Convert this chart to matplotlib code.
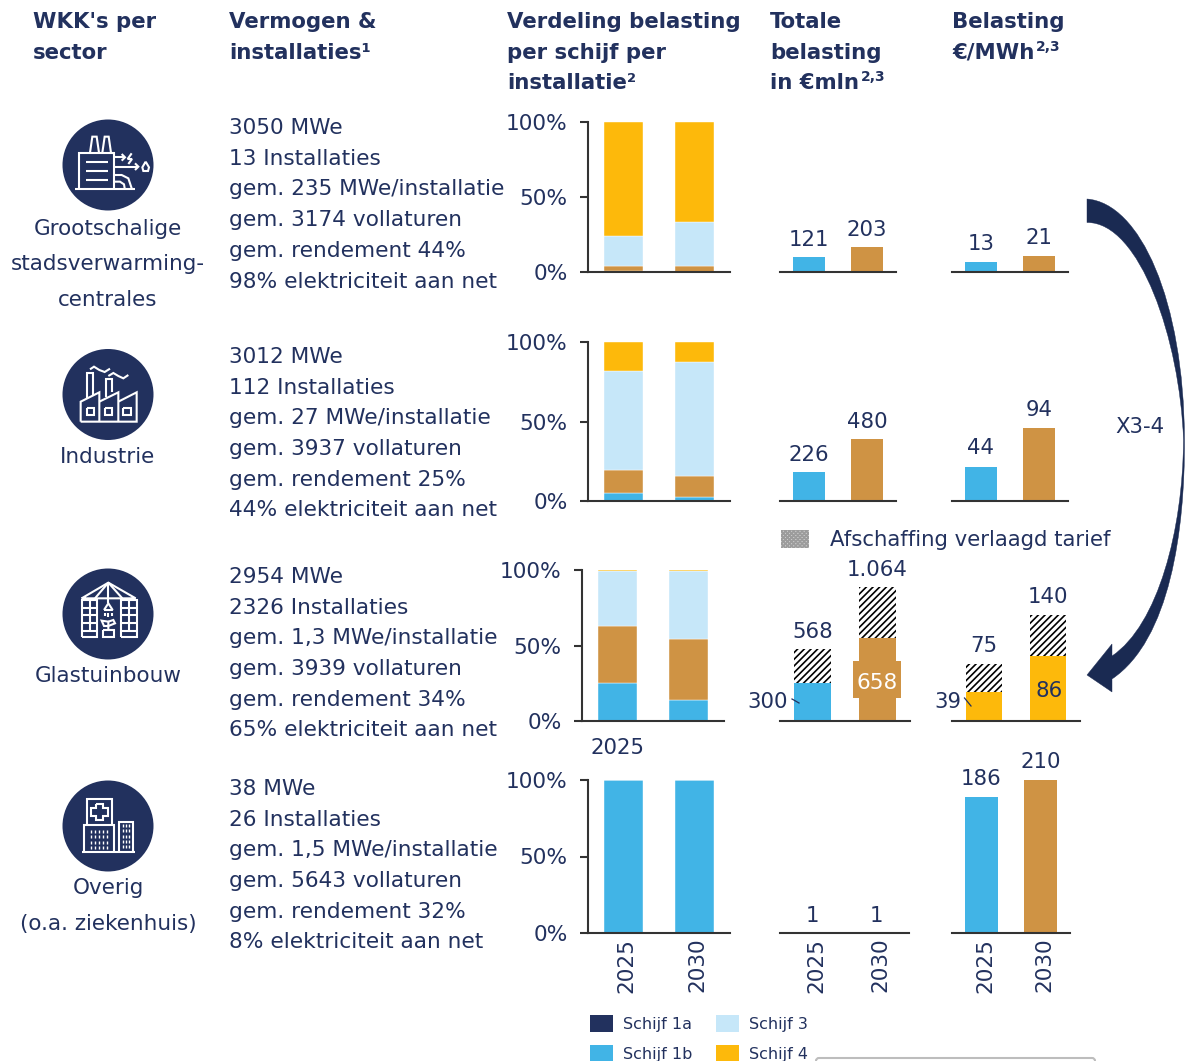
import matplotlib
matplotlib.use("Agg")
from matplotlib import pyplot as plt
from matplotlib.patches import Circle, Rectangle, PathPatch, FancyBboxPatch
from matplotlib.path import Path

W, H = 1187, 1061

NAVY = "#22315E"
BLUE = "#41B4E6"
BROWN = "#CF9344"
LIGHT = "#C6E7F9"
YELLOW = "#FDB90B"
DARK = "#1A2A52"
AXIS = "#333333"

years = ["2025", "2030"]

headers = [
    (33, ["WKK's per", "sector"]),
    (229, ["Vermogen &", "installaties¹"]),
    (507, ["Verdeling belasting", "per schijf per", "installatie²"]),
    (770, ["Totale", "belasting", "in €mln"]),
    (952, ["Belasting", "€/MWh"]),
]

sector_names = [
    ["Grootschalige", "stadsverwarming-", "centrales"],
    ["Industrie"],
    ["Glastuinbouw"],
    ["Overig", "(o.a. ziekenhuis)"],
]

info = [
    ["3050 MWe", "13 Installaties", "gem. 235 MWe/installatie", "gem. 3174 vollaturen",
     "gem. rendement 44%", "98% elektriciteit aan net"],
    ["3012 MWe", "112 Installaties", "gem. 27 MWe/installatie", "gem. 3937 vollaturen",
     "gem. rendement 25%", "44% elektriciteit aan net"],
    ["2954 MWe", "2326 Installaties", "gem. 1,3 MWe/installatie", "gem. 3939 vollaturen",
     "gem. rendement 34%", "65% elektriciteit aan net"],
    ["38 MWe", "26 Installaties", "gem. 1,5 MWe/installatie", "gem. 5643 vollaturen",
     "gem. rendement 32%", "8% elektriciteit aan net"],
]

# share per band, one [2025, 2030] pair per sector
schijf_1b = [[1, 0], [5.3, 2.5], [25, 14], [100, 100]]
schijf_2 = [[3, 4], [14.3, 13.3], [38, 40], [0, 0]]
schijf_3 = [[20, 29.5], [62.4, 71.8], [36.3, 45.5], [0, 0]]
schijf_4 = [[76, 66.5], [18, 12.4], [0.7, 0.5], [0, 0]]

totaal_basis = [[121, 203], [226, 480], [300, 658], [1, 1]]
totaal_extra = [[0, 0], [0, 0], [268, 406], [0, 0]]
totaal_labels = [["121", "203"], ["226", "480"], ["568", "1.064"], ["1", "1"]]
totaal_ymax = [1235, 1223, 1198, 1200]

mwh_basis = [[13, 21], [44, 94], [39, 86], [186, 210]]
mwh_extra = [[0, 0], [0, 0], [36, 54], [0, 0]]
mwh_labels = [["13", "21"], ["44", "94"], ["75", "140"], ["186", "210"]]
mwh_ymax = [201, 205, 200, 210]

legend_items = ["Schijf 1a", "Schijf 1b", "Schijf 3", "Schijf 4"]
legend_colors = [NAVY, BLUE, LIGHT, YELLOW]

# pixel boxes of the panels
row_top = [122, 342, 570, 780]
row_bottom = [272, 501, 721, 933]
share_box = [(588, 730), (588, 730), (582, 724), (588, 730)]
total_box = [(780, 896), (780, 896), (780, 910), (780, 909)]
mwh_box = [(952, 1068), (952, 1068), (952, 1080), (952, 1070)]

plt.rcParams["font.family"] = "DejaVu Sans"
plt.rcParams["hatch.linewidth"] = 1.2
plt.rcParams["hatch.color"] = "black"

fig = plt.figure(figsize=(W / 100, H / 100), dpi=100)
FS = 15.3
FS_BODY = 15.6


def px_axes(left, right, top, bottom):
    ax = fig.add_axes([left / W, 1 - bottom / H, (right - left) / W, (bottom - top) / H])
    ax.patch.set_alpha(0)
    for side in ["top", "right", "left"]:
        ax.spines[side].set_visible(False)
    ax.spines["bottom"].set_linewidth(1.5)
    ax.spines["bottom"].set_color(AXIS)
    ax.set_xlim(-0.5, 1.5)
    ax.set_xticks([])
    ax.set_yticks([])
    return ax


def year_ticks(ax, shift):
    ax.set_xticks([shift, 1 + shift])
    ax.set_xticklabels(years, rotation=90, fontsize=FS_BODY, color=NAVY)
    ax.tick_params(axis="x", length=0, pad=3.5)


def value_panel(ax, basis, extra, labels, colors, lift):
    ax.bar([0, 1], basis, width=0.56, color=colors, linewidth=0)
    ax.bar([0, 1], extra, width=0.56, bottom=basis, color="white", edgecolor="black",
           hatch="/////", linewidth=0)
    for i in range(2):
        ax.annotate(labels[i], (i, basis[i] + extra[i]), xytext=(0, lift),
                    textcoords="offset points", ha="center", va="center",
                    fontsize=FS, color=NAVY)


for r in range(4):
    # stacked shares
    ax = px_axes(share_box[r][0], share_box[r][1], row_top[r], row_bottom[r])
    bottom = [0, 0]
    for vals, col in zip([schijf_1b[r], schijf_2[r], schijf_3[r], schijf_4[r]],
                         [BLUE, BROWN, LIGHT, YELLOW]):
        ax.bar([0, 1], vals, width=0.56, bottom=bottom, color=col,
               edgecolor="white", linewidth=0.3)
        bottom = [bottom[0] + vals[0], bottom[1] + vals[1]]
    ax.set_ylim(0, 100)
    ax.spines["left"].set_visible(True)
    ax.spines["left"].set_linewidth(1.5)
    ax.spines["left"].set_color(AXIS)
    ax.set_yticks([0, 50, 100])
    ax.set_yticklabels(["0%", "50%", "100%"], fontsize=FS_BODY, color=NAVY)
    ax.tick_params(axis="y", length=5.7, width=1.5, color=AXIS, pad=9)
    if r == 3:
        year_ticks(ax, 0.04)

    # total charge
    ax = px_axes(total_box[r][0], total_box[r][1], row_top[r], row_bottom[r])
    value_panel(ax, totaal_basis[r], totaal_extra[r], totaal_labels[r], [BLUE, BROWN], 12.2)
    ax.set_ylim(0, totaal_ymax[r])
    if r == 3:
        year_ticks(ax, 0.06)

    # charge per MWh
    ax = px_axes(mwh_box[r][0], mwh_box[r][1], row_top[r], row_bottom[r])
    cols = [YELLOW, YELLOW] if r == 2 else [BLUE, BROWN]
    value_panel(ax, mwh_basis[r], mwh_extra[r], mwh_labels[r], cols, 13.3)
    ax.set_ylim(0, mwh_ymax[r])
    if r == 3:
        year_ticks(ax, 0.06)

# overlay in pixel coordinates for text and icons
ov = fig.add_axes([0, 0, 1, 1], zorder=10)
ov.set_xlim(0, W)
ov.set_ylim(H, 0)
ov.axis("off")
ov.patch.set_alpha(0)

for x, lines in headers:
    for i, line in enumerate(lines):
        ov.text(x, 22 + i * 30.7, line, fontsize=FS, fontweight="bold", color=NAVY,
                ha="left", va="center")
ov.text(861, 77, "2,3", fontsize=10, fontweight="bold", color=NAVY, ha="left", va="center")
ov.text(1036, 47, "2,3", fontsize=10, fontweight="bold", color=NAVY, ha="left", va="center")

name_y = [[229, 264, 300], [457], [676], [888, 924]]
for names, ys in zip(sector_names, name_y):
    for name, y in zip(names, ys):
        ov.text(108, y, name, fontsize=15.5, color=NAVY, ha="center", va="center")

info_y = [128, 357, 577, 789]
for lines, y0 in zip(info, info_y):
    for i, line in enumerate(lines):
        ov.text(229, y0 + i * 30.7, line, fontsize=FS_BODY, color=NAVY, ha="left", va="center")

ov.text(617, 748, "2025", fontsize=FS, color=NAVY, ha="center", va="center")

# labels inside and beside the bars of the glasshouse row
ov.add_patch(Rectangle((853, 661), 48, 37, color=BROWN, lw=0, zorder=3))
ov.text(877, 683, "658", fontsize=FS_BODY, color="white", ha="center", va="center", zorder=4)
ov.text(1049, 691, "86", fontsize=FS, color=NAVY, ha="center", va="center", zorder=4)
ov.text(768, 702, "300", fontsize=FS, color=NAVY, ha="center", va="center")
ov.text(948, 702, "39", fontsize=FS, color=NAVY, ha="center", va="center")
ov.plot([792, 799], [699, 703], color=NAVY, lw=0.9)
ov.plot([964.5, 971], [698, 706], color=NAVY, lw=0.9)

# hatch key
ov.add_patch(Rectangle((781, 530), 28, 18, facecolor="#CDCDCD", edgecolor="#9C9C9C",
                       hatch="xxxxxxxx", lw=0))
ov.text(830, 540, "Afschaffing verlaagd tarief", fontsize=15.35, color=NAVY,
        ha="left", va="center")
ov.text(1140, 427, "X3-4", fontsize=FS, color=NAVY, ha="center", va="center")

# band legend
legend_x = [590, 590, 716, 716]
legend_y = [1015, 1045, 1015, 1045]
for name, col, lx, ly in zip(legend_items, legend_colors, legend_x, legend_y):
    ov.add_patch(Rectangle((lx, ly), 23, 17, color=col, lw=0))
    ov.text(lx + 33, ly + 9, name, fontsize=11.5, color=NAVY, ha="left", va="center")

ov.add_patch(FancyBboxPatch((816, 1058), 279, 30, boxstyle="round,pad=0,rounding_size=3",
                            facecolor="white", edgecolor="#BDBDBD", lw=1.5))

# curved arrow
verts = [
    (1087, 199),
    (1140, 203), (1184, 300), (1184.5, 440),
    (1185, 530), (1170, 640), (1112, 679),
    (1112, 692), (1087, 675), (1112, 644), (1112, 656),
    (1158, 625), (1183, 530), (1183.5, 440),
    (1180, 340), (1140, 222), (1087, 222.5),
    (1087, 199),
]
codes = [Path.MOVETO] + [Path.CURVE4] * 6 + [Path.LINETO] * 4 + [Path.CURVE4] * 6 + [Path.CLOSEPOLY]
ov.add_patch(PathPatch(Path(verts, codes), facecolor=DARK, edgecolor=DARK, lw=0.3))


def icon_lines(paths, ox, oy, s=3.0, lw=1.5):
    for pts in paths:
        xs = [ox + p[0] / s for p in pts]
        ys = [oy + p[1] / s for p in pts]
        ov.plot(xs, ys, color="white", lw=lw, solid_capstyle="butt", solid_joinstyle="miter")


for cy in [165, 394.5, 614, 826]:
    ov.add_patch(Circle((108, cy), 45.5, color=NAVY, lw=0))

# power plant
icon_lines([
    [(237, 265), (237, 160), (343, 160), (343, 265)],
    [(270, 158), (277, 110), (290, 110), (297, 158)],
    [(307, 158), (314, 110), (326, 110), (333, 158)],
    [(258, 185), (323, 185)], [(258, 212), (323, 212)], [(258, 240), (323, 240)],
    [(225, 267), (405, 267)],
    [(345, 172), (375, 172)], [(365, 162), (375, 172), (365, 182)],
    [(345, 200), (415, 200)], [(405, 190), (415, 200), (405, 210)],
    [(395, 160), (383, 177), (396, 177), (385, 192)],
    [(345, 225), (365, 225), (385, 235), (395, 265)],
    [(345, 245), (360, 245), (372, 253), (374, 265)],
    [(437, 185), (427, 202), (430, 213), (444, 213), (447, 202), (437, 185)],
], 0, 100)

# factory
icon_lines([
    [(152, 245), (152, 185), (208, 157), (208, 245)],
    [(208, 185), (265, 157), (265, 245)],
    [(265, 185), (320, 157), (320, 245), (152, 245)],
    [(172, 175), (172, 98), (190, 98), (190, 165)],
    [(227, 170), (227, 118), (246, 118), (246, 157)],
    [(170, 204), (192, 204), (192, 226), (170, 226), (170, 204)],
    [(225, 204), (247, 204), (247, 226), (225, 226), (225, 204)],
    [(280, 204), (302, 204), (302, 226), (280, 226), (280, 204)],
    [(180, 88), (192, 80), (208, 90), (224, 96), (240, 86)],
    [(235, 108), (250, 99), (265, 108), (280, 115), (295, 105)],
], 30, 340)

# greenhouse
grid = []
for xa, xb in [(155, 202), (272, 320)]:
    grid.append([(xa, 892), (xa, 780), (xb, 780), (xb, 892), (xa, 892)])
    grid.append([((xa + xb) / 2, 780), ((xa + xb) / 2, 872)])
    for gy in [805, 825, 850, 872]:
        grid.append([(xa, gy), (xb, gy)])
icon_lines(grid + [
    [(155, 775), (235, 728), (317, 775), (155, 775)],
    [(235, 728), (235, 775)], [(235, 728), (195, 775)], [(235, 728), (277, 775)],
    [(235, 775), (235, 790)],
    [(222, 810), (235, 790), (248, 810), (222, 810)],
    [(218, 870), (252, 870), (252, 892), (218, 892), (218, 870)],
    [(235, 870), (235, 845), (215, 842), (222, 858), (235, 858)],
    [(235, 858), (255, 850), (250, 840), (235, 845)],
    [(225, 820), (225, 828)], [(235, 820), (235, 832)], [(247, 820), (247, 828)],
], 30, 340)

# hospital
dots = []
for ax_x in [184, 196, 208, 220, 232]:
    for ay in [180, 195, 212, 228]:
        dots.append([(ax_x, ay), (ax_x, ay + 9)])
for ax_x in [278, 288, 298]:
    for ay in [162, 178, 194, 210, 226]:
        dots.append([(ax_x, ay), (ax_x, ay + 9)])
icon_lines(dots, 30, 770, lw=1.0)
icon_lines([
    [(170, 162), (170, 88), (246, 88), (246, 162)],
    [(163, 245), (163, 165), (253, 165), (253, 245)],
    [(266, 245), (266, 155), (308, 155), (308, 245)],
    [(155, 246), (316, 246)],
    [(197, 103), (219, 103), (219, 115), (233, 115), (233, 137), (219, 137), (219, 150),
     (197, 150), (197, 137), (183, 137), (183, 115), (197, 115), (197, 103)],
], 30, 770)

fig.savefig("out.png", dpi=100)
